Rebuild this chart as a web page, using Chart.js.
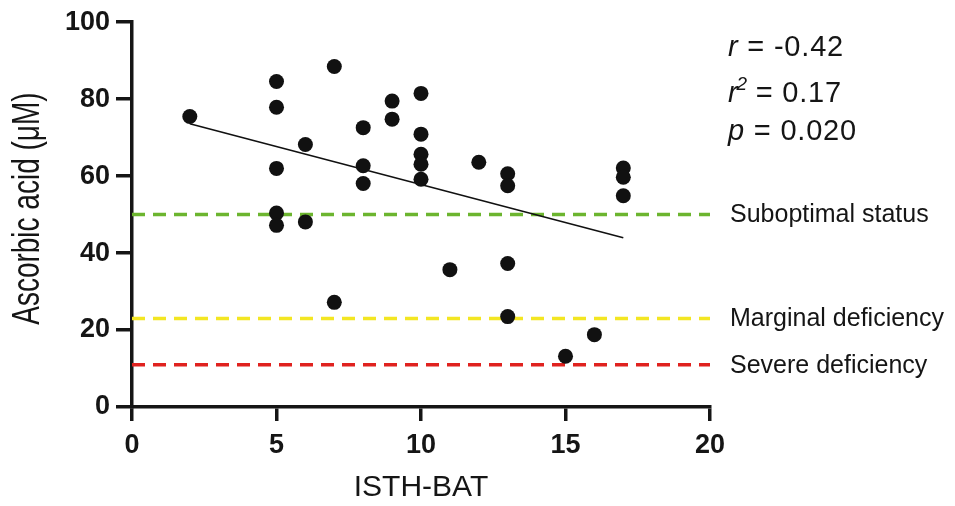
<!DOCTYPE html>
<html>
<head>
<meta charset="utf-8">
<script src="https://cdn.jsdelivr.net/npm/chart.js@4/dist/chart.umd.min.js"></script>
<style>
  html, body { margin: 0; padding: 0; background: #ffffff; }
  #wrap { width: 955px; height: 506px; position: relative; }
</style>
</head>
<body>
<div id="wrap"><canvas id="c" width="955" height="506"></canvas></div>
<script>
// ISTH-BAT score (x) and ascorbic acid in µM (y)
const isthBat = [2, 5, 5, 5, 5, 5, 6, 6, 7, 7, 8, 8, 8, 9, 9, 10, 10, 10, 10, 10, 11, 12, 13, 13, 13, 13, 15, 16, 17, 17, 17];
const ascorbicAcid = [75.5, 84.6, 77.9, 62.0, 50.4, 47.2, 68.2, 48.1, 88.5, 27.2, 72.6, 62.7, 58.1, 79.5, 74.8, 81.5, 70.9, 65.7, 63.1, 59.2, 35.7, 63.6, 60.6, 57.5, 37.3, 23.5, 13.2, 18.8, 62.1, 59.7, 54.9];

// Regression line end points
const fitX = [2, 17];
const fitY = [73.6, 44.0];

// Threshold lines
const thresholdNames = ['Suboptimal status', 'Marginal deficiency', 'Severe deficiency'];
const thresholdValues = [50, 23, 11];
const thresholdColors = ['#6cb52f', '#f3e622', '#e0221f'];
const thresholdSpan = [0, 20];

// Statistics
const statR = '-0.42';
const statR2 = '0.17';
const statP = '0.020';

// Axes
const xTicks = [0, 5, 10, 15, 20];
const yTicks = [0, 20, 40, 60, 80, 100];
const xTitle = 'ISTH-BAT';
const yTitle = 'Ascorbic acid (μM)';

const INK = '#151515';
const FONT = '"Liberation Sans", Arial, Helvetica, sans-serif';

const pts = isthBat.map((x, i) => ({ x: x, y: ascorbicAcid[i] }));
const fit = fitX.map((x, i) => ({ x: x, y: fitY[i] }));

const datasets = [
  {
    label: 'Patients',
    data: pts,
    backgroundColor: '#111111',
    borderColor: '#111111',
    pointRadius: 7.5,
    pointHoverRadius: 7.5,
    borderWidth: 0,
    showLine: false,
    order: 0
  },
  {
    label: 'Fit',
    data: fit,
    borderColor: '#111111',
    borderWidth: 1.6,
    pointRadius: 0,
    showLine: true,
    fill: false,
    order: 1
  }
];
thresholdValues.forEach((v, i) => {
  datasets.push({
    label: thresholdNames[i],
    data: thresholdSpan.map(x => ({ x: x, y: v })),
    borderColor: thresholdColors[i],
    borderWidth: 3.5,
    borderDash: [13, 8],
    pointRadius: 0,
    showLine: true,
    fill: false,
    order: 2
  });
});

const annotations = {
  id: 'annotations',
  afterDraw(chart) {
    const ctx = chart.ctx;
    const ca = chart.chartArea;
    const ys = chart.scales.y;
    ctx.save();
    ctx.fillStyle = INK;
    // y-axis title
    ctx.save();
    ctx.translate(39, (ca.top + ca.bottom) / 2 - 6);
    ctx.rotate(-Math.PI / 2);
    ctx.scale(1, 1.4);
    ctx.font = '28px ' + FONT;
    ctx.textAlign = 'center';
    ctx.textBaseline = 'alphabetic';
    ctx.fillText(yTitle, 0, 0);
    ctx.restore();
    // threshold labels
    ctx.font = '25px ' + FONT;
    ctx.textBaseline = 'middle';
    ctx.textAlign = 'left';
    thresholdValues.forEach((v, i) => {
      ctx.fillText(thresholdNames[i], ca.right + 20, ys.getPixelForValue(v) + 1);
    });
    // statistics
    const x0 = ca.right + 18;
    ctx.textBaseline = 'alphabetic';
    const big = 29;
    try { ctx.letterSpacing = '0.8px'; } catch (e) {}
    // r = ...
    ctx.font = 'italic ' + big + 'px ' + FONT;
    ctx.fillText('r', x0, 56);
    let w = ctx.measureText('r').width;
    ctx.font = big + 'px ' + FONT;
    ctx.fillText(' = ' + statR, x0 + w, 56);
    // r^2 = ...
    ctx.font = 'italic ' + big + 'px ' + FONT;
    ctx.fillText('r', x0, 102);
    w = ctx.measureText('r').width;
    ctx.font = 'italic 19px ' + FONT;
    ctx.fillText('2', x0 + w - 2, 90);
    const w2 = ctx.measureText('2').width;
    ctx.font = big + 'px ' + FONT;
    ctx.fillText(' = ' + statR2, x0 + w + w2 - 3, 102);
    // p = ...
    ctx.font = 'italic ' + big + 'px ' + FONT;
    ctx.fillText('p', x0, 140);
    w = ctx.measureText('p').width;
    ctx.font = big + 'px ' + FONT;
    ctx.fillText(' = ' + statP, x0 + w, 140);
    ctx.restore();
  }
};

new Chart(document.getElementById('c'), {
  type: 'scatter',
  data: { datasets: datasets },
  plugins: [annotations],
  options: {
    responsive: false,
    animation: false,
    events: [],
    layout: { padding: { left: 0, top: 19.5, right: 245, bottom: 0 } },
    plugins: { legend: { display: false }, tooltip: { enabled: false } },
    scales: {
      x: {
        type: 'linear',
        min: 0, max: 20,
        afterBuildTicks(scale) { scale.ticks = xTicks.map(v => ({ value: v })); },
        afterFit(scale) { scale.height = 99; },
        border: { display: true, color: INK, width: 3.5 },
        grid: { display: true, drawOnChartArea: false, drawTicks: true, tickLength: 14, color: INK, lineWidth: 3.5 },
        ticks: { color: INK, font: { family: FONT, size: 27, weight: 'bold' }, padding: 8, maxRotation: 0 },
        title: { display: true, text: xTitle, color: INK, font: { family: FONT, size: 30 }, padding: { top: 0, bottom: 0 } }
      },
      y: {
        type: 'linear',
        min: 0, max: 100,
        afterBuildTicks(scale) { scale.ticks = yTicks.map(v => ({ value: v })); },
        afterFit(scale) { scale.width = 132; },
        border: { display: true, color: INK, width: 3.5 },
        grid: { display: true, drawOnChartArea: false, drawTicks: true, tickLength: 16, color: INK, lineWidth: 3.5 },
        ticks: { color: INK, font: { family: FONT, size: 27, weight: 'bold' }, padding: 6 },
        title: { display: false }
      }
    }
  }
});
</script>
</body>
</html>
